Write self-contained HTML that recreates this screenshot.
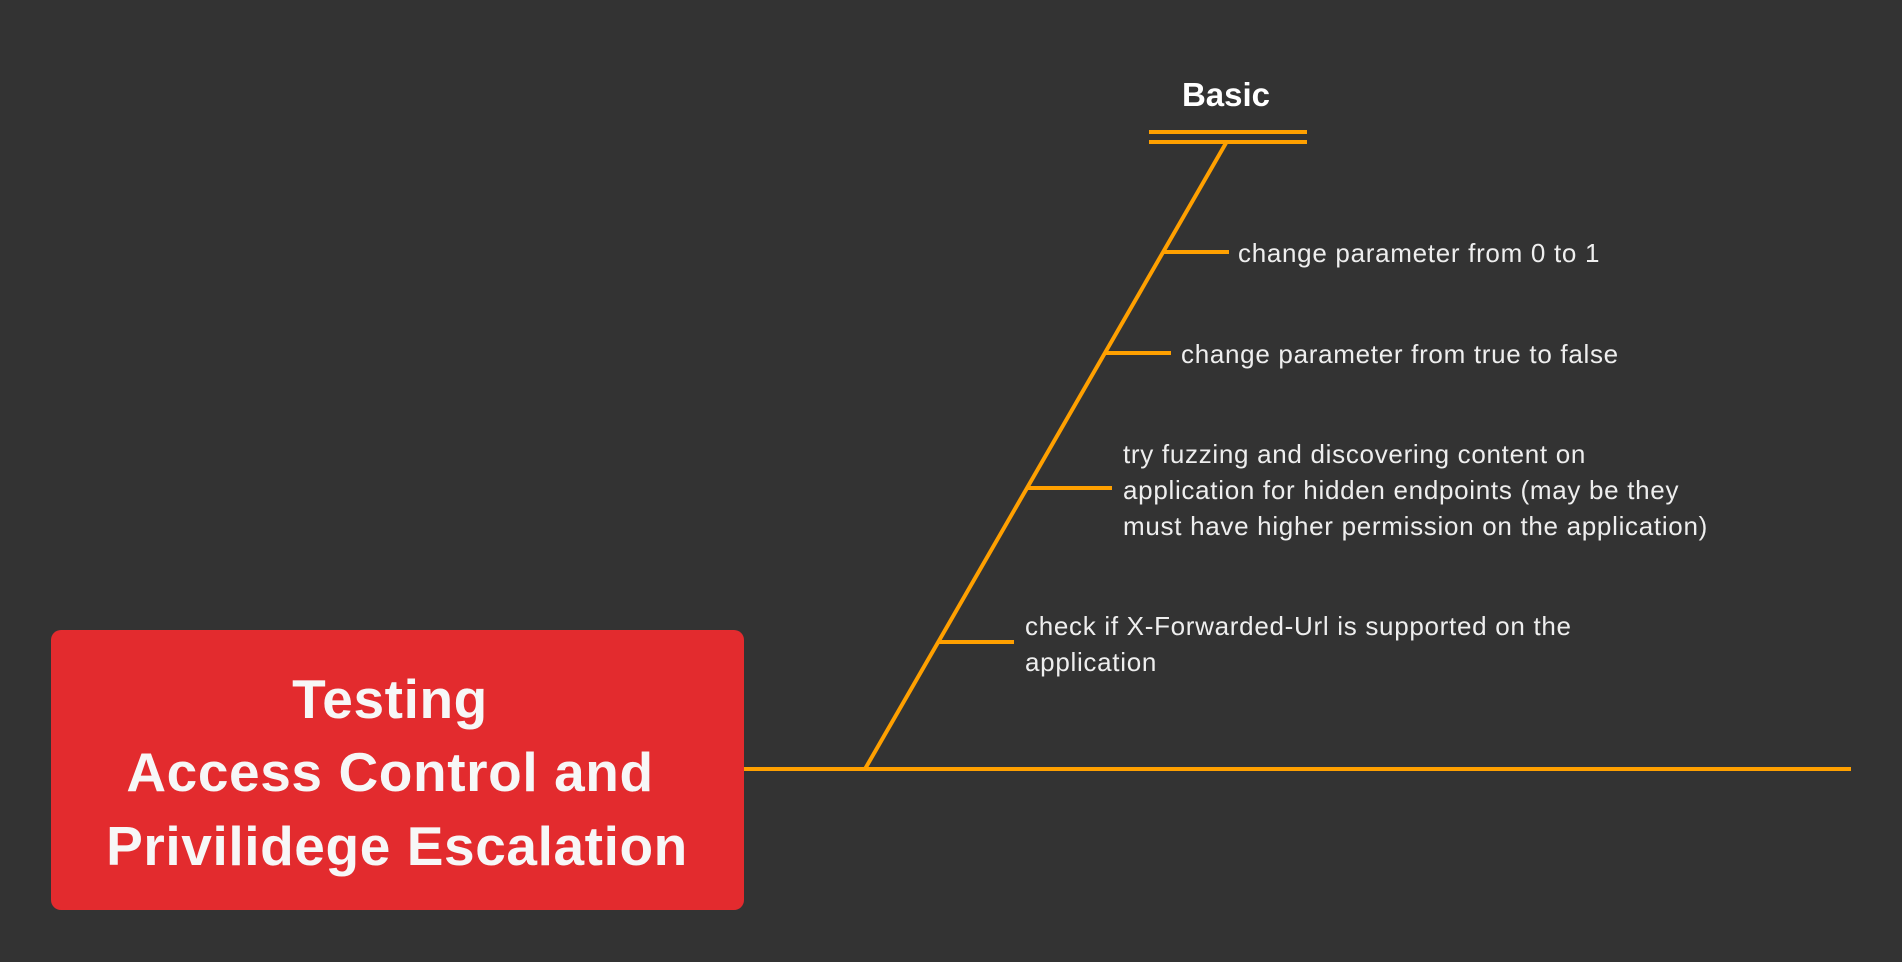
<!DOCTYPE html>
<html><head><meta charset="utf-8"><style>
html,body{margin:0;padding:0;background:#333333;width:1902px;height:962px;overflow:hidden}
svg{display:block}
</style></head><body>
<svg width="1902" height="962" viewBox="0 0 1902 962" xmlns="http://www.w3.org/2000/svg">
<rect width="1902" height="962" fill="#333333"/>
<g stroke="#FFA000" stroke-width="4" fill="none">
<line x1="744" y1="769" x2="1851" y2="769"/>
<line x1="865" y1="769" x2="1226" y2="143"/>
<line x1="1149" y1="132" x2="1307" y2="132"/>
<line x1="1149" y1="142" x2="1307" y2="142"/>
<line x1="1163" y1="252" x2="1229" y2="252"/>
<line x1="1105" y1="353" x2="1171" y2="353"/>
<line x1="1027" y1="488" x2="1112" y2="488"/>
<line x1="938" y1="642" x2="1014" y2="642"/>
</g>
<rect x="51" y="630" width="693" height="280" rx="10" fill="#E32B2E"/>
<g font-family="Liberation Sans, sans-serif" font-weight="bold" fill="#f7f7f7" font-size="55" letter-spacing="0.6" text-anchor="middle">
<text x="390" y="718">Testing</text>
<text x="390" y="791">Access Control and</text>
<text x="397" y="865">Privilidege Escalation</text>
</g>
<text x="1226" y="106" font-family="Liberation Sans, sans-serif" font-weight="bold" font-size="33" fill="#ffffff" text-anchor="middle">Basic</text>
<g font-family="Liberation Sans, sans-serif" font-size="26" letter-spacing="0.7" fill="#eeeeee">
<text x="1238" y="262">change parameter from 0 to 1</text>
<text x="1181" y="363">change parameter from true to false</text>
<text x="1123" y="463">try fuzzing and discovering content on</text>
<text x="1123" y="499">application for hidden endpoints (may be they</text>
<text x="1123" y="535">must have higher permission on the application)</text>
<text x="1025" y="635">check if X-Forwarded-Url is supported on the</text>
<text x="1025" y="671">application</text>
</g>
</svg>
</body></html>
